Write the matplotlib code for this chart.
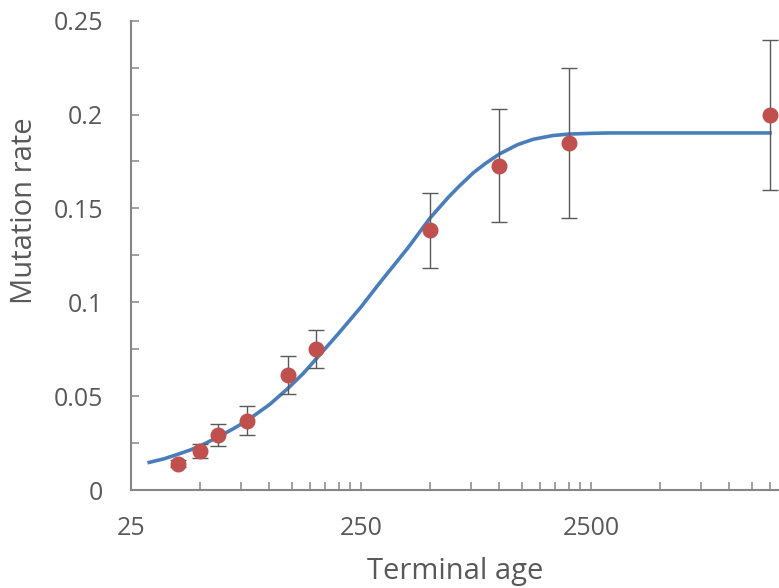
import numpy as np
from matplotlib import pyplot as plt
from matplotlib.ticker import FixedLocator, NullFormatter

plt.rcParams['font.family'] = ['Open Sans', 'DejaVu Sans']

# observed points
age = [40, 50, 60, 80, 120, 160, 500, 1000, 2000, 15000]
rate = [0.0140, 0.0210, 0.0292, 0.0370, 0.0612, 0.0752, 0.1383, 0.1727, 0.1848, 0.1998]
err = [0.002, 0.0037, 0.0060, 0.0078, 0.0101, 0.0101, 0.0200, 0.0300, 0.0400, 0.0400]

# fitted curve
fit_age = [30, 35, 39, 45, 50, 60, 70, 80, 100, 120, 140, 160, 200, 250, 300, 400, 500,
           600, 670, 770, 870, 1000, 1200, 1400, 1700, 2000, 2500, 3000, 15000]
fit_rate = [0.0147, 0.0167, 0.0186, 0.0212, 0.0235, 0.0283, 0.0328, 0.0370, 0.0455, 0.0540,
            0.0620, 0.0700, 0.0835, 0.0975, 0.1100, 0.1290, 0.1450,
            0.1560, 0.1620, 0.1690, 0.1740, 0.1790, 0.1840, 0.1868, 0.1888, 0.1896,
            0.1900, 0.1902, 0.1902]

gray = '#595959'
axcol = '#868686'

fig = plt.figure(figsize=(7.79, 5.88), dpi=100)
ax = fig.add_axes([131/779, 98/588, 690/779, 469.3/588])

ax.plot(fit_age, fit_rate, color='#4A7EBB', lw=2.6, zorder=2)
ax.errorbar(age, rate, yerr=err, fmt='none', ecolor='#595959', elinewidth=1.0,
            capsize=5.5, capthick=1.0, zorder=3)
ax.plot(age, rate, 'o', color='#C0504D', ms=10.5, mec='#C0504D', zorder=4)

ax.set_xscale('log')
ax.set_xlim(25, 25000)
ax.set_ylim(0, 0.25)

ax.xaxis.set_major_locator(FixedLocator([25, 250, 2500, 25000]))
ax.set_xticklabels(['25', '250', '2500', ''])
minor = [25 * d * k for d in [1, 10, 100] for k in range(2, 10)]
ax.xaxis.set_minor_locator(FixedLocator(minor))
ax.xaxis.set_minor_formatter(NullFormatter())

ax.set_yticks([0, 0.05, 0.1, 0.15, 0.2, 0.25])
ax.set_yticklabels(['0', '0.05', '0.1', '0.15', '0.2', '0.25'])
ax.yaxis.set_minor_locator(FixedLocator([0.025, 0.075, 0.125, 0.175, 0.225]))

ax.tick_params(which='both', direction='in', length=5.5, width=1.1, color=axcol,
               labelcolor=gray, labelsize=18)
ax.tick_params(axis='x', pad=19)
ax.tick_params(axis='y', pad=20)

for s in ['top', 'right']:
    ax.spines[s].set_visible(False)
for s in ['left', 'bottom']:
    ax.spines[s].set_color(axcol)
    ax.spines[s].set_linewidth(1.5)

fig.text(25/779, 1 - 211/588, 'Mutation rate', rotation=90, ha='center', va='center',
         fontsize=21, color=gray)
fig.text(455/779, 1 - 572/588, 'Terminal age', ha='center', va='center',
         fontsize=21, color=gray)

plt.savefig('out.png', dpi=100)
